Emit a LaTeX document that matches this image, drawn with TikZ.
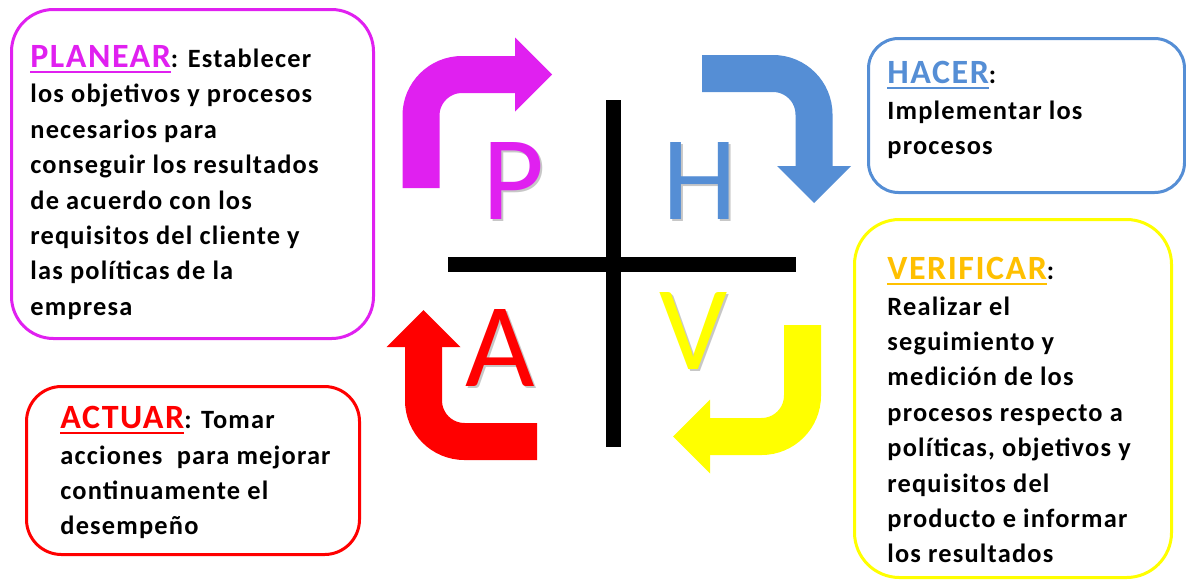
\documentclass[tikz,border=0pt]{standalone}
\usepackage{fontspec}
\setmainfont{Carlito}
\newfontfamily\boxfont{Carlito}[LetterSpace=4.5]
\usetikzlibrary{arrows.meta}
\definecolor{PhvaMagenta}{HTML}{E020F0}
\definecolor{PhvaBlue}{HTML}{558ED5}
\definecolor{PhvaYellow}{HTML}{FFFF00}
\definecolor{PhvaOrange}{HTML}{FFC000}
\definecolor{PhvaRed}{HTML}{FF0000}
\newcommand\hdword[2]{{\color{#1}\setbox0\hbox{\fontsize{17}{17.7}\selectfont #2}\rlap{\rule[-2.8pt]{\wd0}{1.2pt}}\box0}}

\begin{document}
\begin{tikzpicture}[x=.5pt,y=-.5pt,
  box/.style={draw,line width=1.5pt,anchor=north west,inner sep=0pt},
  txt/.style={anchor=north west,inner sep=0pt,align=left,font=\boxfont\bfseries\fontsize{13.2}{17.7}\selectfont},
  band/.style={line width=18.5pt,rounded corners=20.5pt,-{Triangle[length=18.5pt,width=37pt,line width=0pt]}},
  letter/.style={inner sep=0pt,font=\fontsize{60}{60}\selectfont}]
  \useasboundingbox (0,0) rectangle (1186,579);
  % the four boxes
  \node[box,PhvaMagenta,rounded corners=21pt,minimum width=181pt,minimum height=164.5pt] (planbox) at (10,8) {};
  \node[box,PhvaBlue,rounded corners=15pt,minimum width=158pt,minimum height=77pt] (hacerbox) at (867,37) {};
  \node[box,PhvaYellow,rounded corners=22.5pt,minimum width=158.5pt,minimum height=179pt] (verifbox) at (853,218) {};
  \node[box,PhvaRed,rounded corners=17.5pt,minimum width=166.5pt,minimum height=84pt] (actbox) at (25,385) {};
  \node[txt] (plantxt) at (30,45) {\hdword{PhvaMagenta}{PLANEAR}: Establecer\\los objetivos y procesos\\necesarios para\\conseguir los resultados\\de acuerdo con los\\requisitos del cliente y\\las políticas de la\\empresa};
  \node[txt] (hacertxt) at (887,61) {\hdword{PhvaBlue}{HACER}:\\Implementar los\\procesos};
  \node[txt] (veriftxt) at (887,257) {\hdword{PhvaOrange}{VERIFICAR}:\\Realizar el\\seguimiento y\\medición de los\\procesos respecto a\\políticas, objetivos y\\requisitos del\\producto e informar\\los resultados};
  \node[txt] (acttxt) at (60,406) {\hdword{PhvaRed}{ACTUAR}: Tomar\\acciones~ para mejorar\\continuamente el\\desempeño};
  % cross
  \draw[line width=7.5pt] (613,100)--(613,447); \draw[line width=7.5pt] (448,264)--(796,264);
  % cycle arrows
  \foreach \c/\a/\b/\t in {PhvaMagenta/{421,188}/{421,74.5}/{552,74.5},PhvaBlue/{702,73.5}/{814,73.5}/{814,203},PhvaYellow/{802.5,325}/{802.5,436.5}/{673,436.5},PhvaRed/{537,441.5}/{423.5,441.5}/{423.5,310}}
    {\draw[band,\c] (\a)--(\b)--(\t);}
  % letters
  \foreach \l/\c/\x/\y in {P/PhvaMagenta/513/181,H/PhvaBlue/700/181,A/PhvaRed/500/348,V/PhvaYellow/694/331}{\node[letter,black!22] (shadow\l) at (\x+2,\y+2) {\l};\node[letter,\c] (letter\l) at (\x,\y) {\l};}
\end{tikzpicture}
\end{document}
